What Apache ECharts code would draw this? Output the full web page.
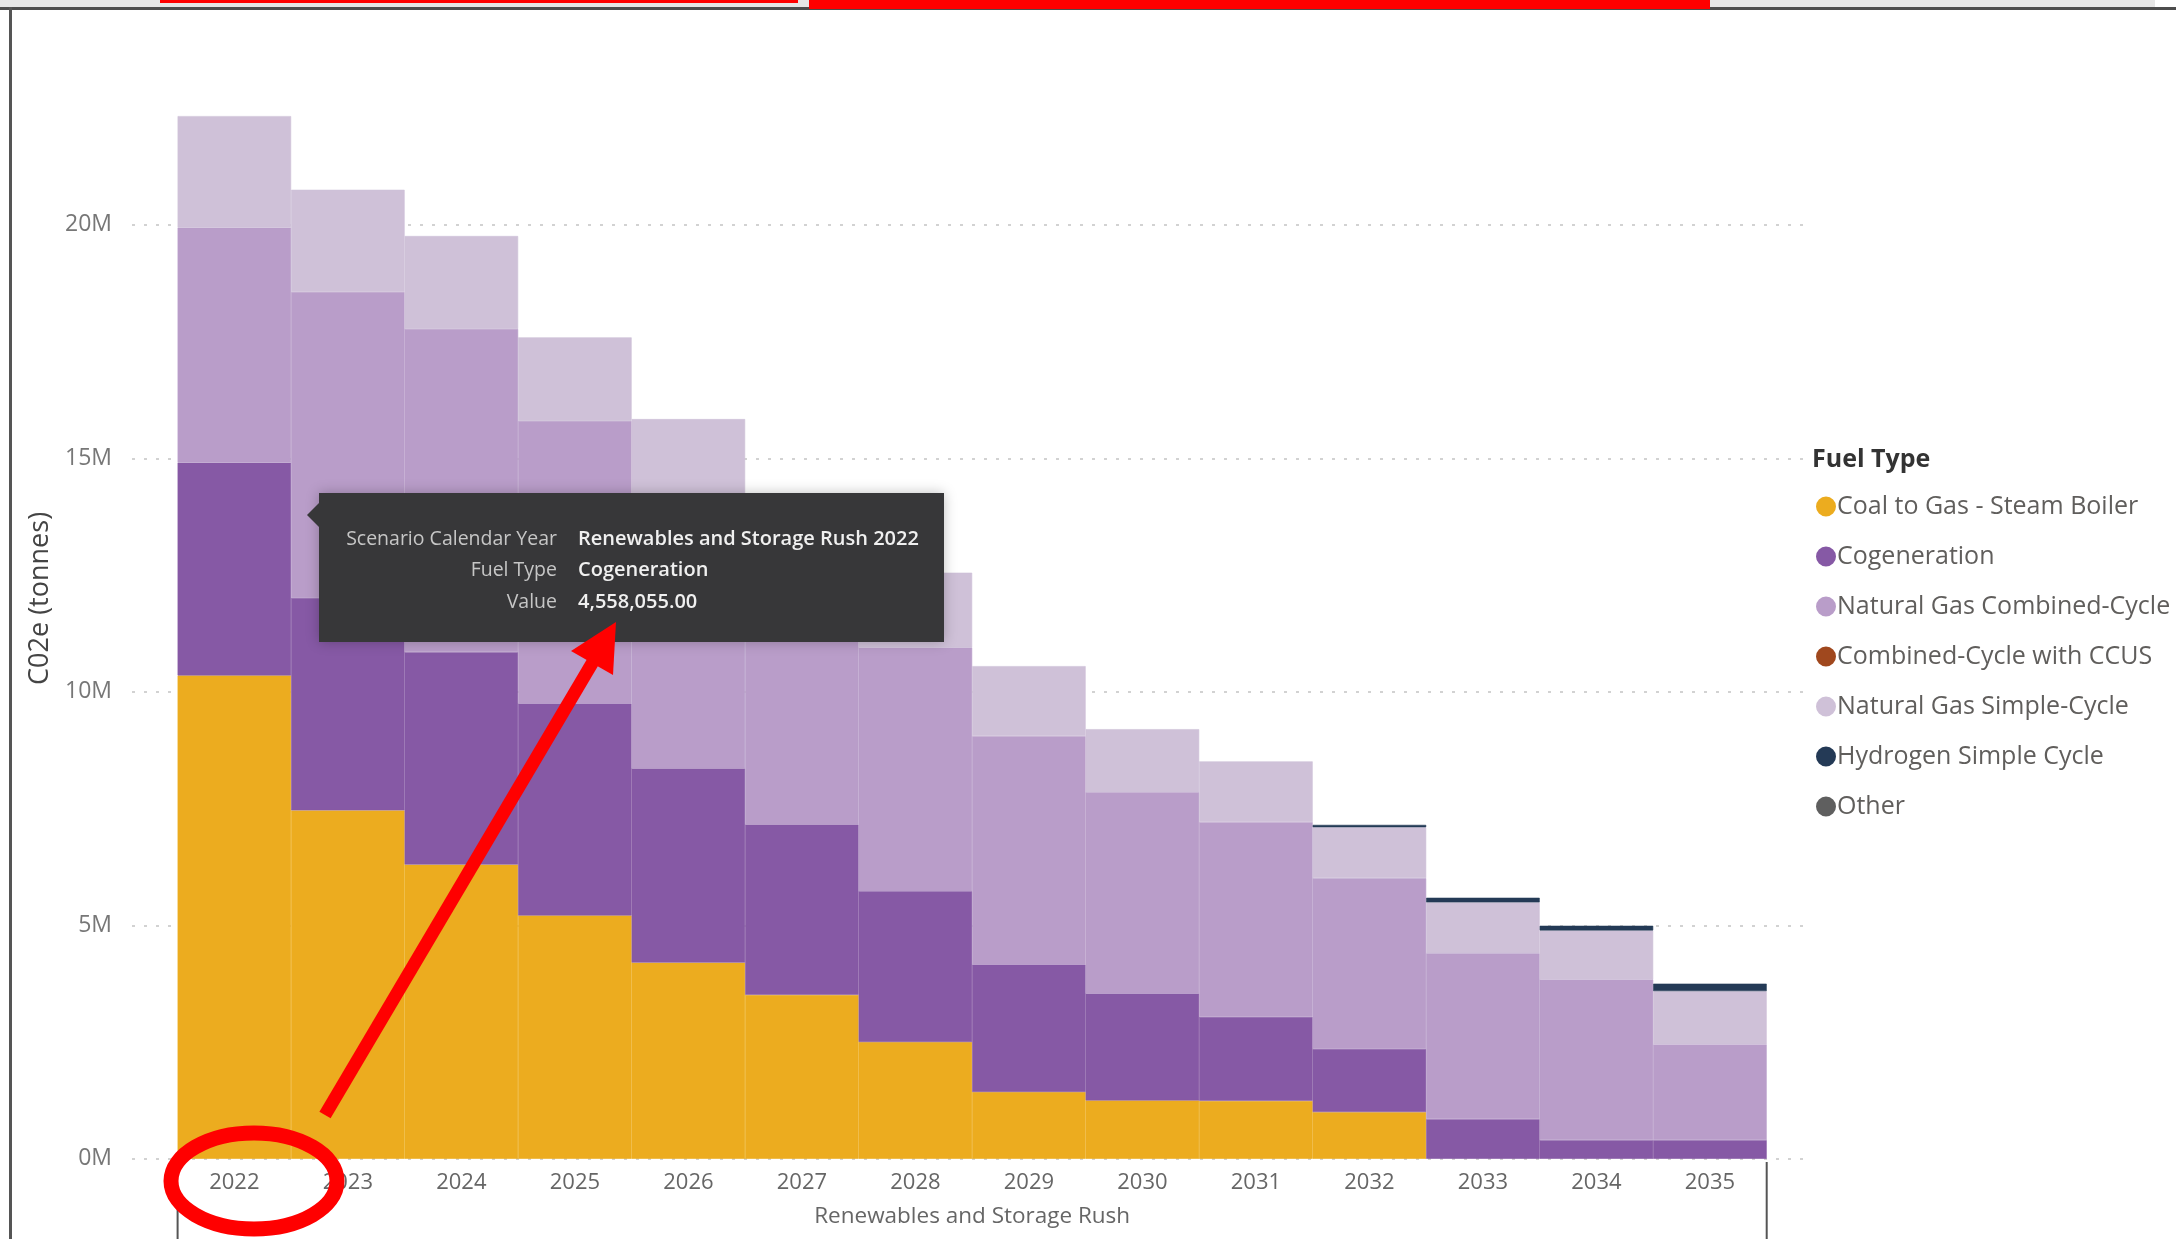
<!DOCTYPE html>
<html>
<head>
<meta charset="utf-8">
<script src="https://cdn.jsdelivr.net/npm/echarts@6/dist/echarts.min.js"></script>
<style>
  html, body { margin: 0; padding: 0; background: #fff; }
  #chart { width: 2176px; height: 1239px; }
</style>
</head>
<body>
<div id="chart"></div>
<script>
  // values in tonnes CO2e
  var years = ['2022', '2023', '2024', '2025', '2026', '2027', '2028', '2029', '2030', '2031', '2032', '2033', '2034', '2035'];
  var coalToGas = [10350000, 7460000, 6300000, 5210000, 4200000, 3510000, 2500000, 1430000, 1250000, 1240000, 1000000, 0, 0, 0];
  var cogeneration = [4558055, 4550000, 4550000, 4540000, 4160000, 3650000, 3230000, 2730000, 2290000, 1800000, 1350000, 850000, 400000, 400000];
  var ngCombined = [5030000, 6550000, 6920000, 6050000, 5760000, 5240000, 5220000, 4890000, 4310000, 4170000, 3660000, 3550000, 3440000, 2050000];
  var ccus = [0, 0, 0, 0, 0, 0, 0, 0, 0, 0, 0, 0, 0, 0];
  var ngSimple = [2390000, 2190000, 1990000, 1790000, 1720000, 1650000, 1600000, 1500000, 1350000, 1300000, 1090000, 1090000, 1050000, 1140000];
  var hydrogen = [0, 0, 0, 0, 0, 0, 0, 0, 0, 0, 50000, 100000, 100000, 160000];
  var other = [0, 0, 0, 0, 0, 0, 0, 0, 0, 0, 0, 0, 0, 0];
  var yTicks = [0, 5000000, 10000000, 15000000, 20000000];

  var fuelNames = ['Coal to Gas - Steam Boiler', 'Cogeneration', 'Natural Gas Combined-Cycle',
    'Combined-Cycle with CCUS', 'Natural Gas Simple-Cycle', 'Hydrogen Simple Cycle', 'Other'];
  var fuelData = [coalToGas, cogeneration, ngCombined, ccus, ngSimple, hydrogen, other];
  var fuelColors = ['#ECAC1F', '#8659A5', '#B99DC9', '#A0481E', '#CFC1D8', '#243A56', '#5F5F5F'];

  var font = '"Segoe UI", "Open Sans", sans-serif';
  var yMax = 24000000;

  var chart = echarts.init(document.getElementById('chart'));

  var series = fuelNames.map(function (name, i) {
    return {
      name: name,
      type: 'bar',
      stack: 'fuel',
      xAxisIndex: 0,
      yAxisIndex: 0,
      barCategoryGap: 0,
      color: fuelColors[i],
      // thin same-colour border hides the seams between neighbouring bars
      itemStyle: { color: fuelColors[i], borderColor: fuelColors[i], borderWidth: 0.6 },
      // empty segments are left out so they draw no border line
      data: fuelData[i].map(function (v) { return v === 0 ? '-' : v; }),
      z: 3
    };
  });

  var option = {
    animation: false,
    backgroundColor: '#fff',
    textStyle: { fontFamily: font },
    grid: [
      { left: 177.6, right: 409.3, top: 38, bottom: 80.2 },
      { left: 132, right: 365, top: 38, bottom: 80.2 }
    ],
    legend: {
      orient: 'vertical',
      left: 1811,
      top: 489,
      icon: 'circle',
      itemWidth: 18,
      itemHeight: 18,
      itemGap: 25,
      selectedMode: false,
      data: fuelNames,
      textStyle: { fontFamily: font, fontSize: 25, color: '#605E5C', padding: [0, 0, 0, -3] }
    },
    xAxis: [
      {
        type: 'category',
        gridIndex: 0,
        data: years,
        axisLine: { show: false },
        axisTick: { show: false },
        axisLabel: { color: '#666', fontSize: 22, margin: 13, fontFamily: font },
        name: 'Renewables and Storage Rush',
        nameLocation: 'middle',
        nameGap: 46,
        nameTextStyle: { color: '#666', fontSize: 22.5, fontFamily: font }
      },
      { type: 'value', gridIndex: 1, show: false, min: 0, max: 1 }
    ],
    yAxis: [
      { type: 'value', gridIndex: 0, min: 0, max: yMax, interval: 5000000, show: false },
      {
        type: 'value',
        gridIndex: 1,
        min: 0,
        max: yMax,
        interval: 5000000,
        axisLine: { show: false },
        axisTick: { show: false },
        axisLabel: {
          color: '#777', fontSize: 23, margin: 20, fontFamily: font, showMaxLabel: false,
          formatter: function (v) { return yTicks.indexOf(v) >= 0 ? (v / 1000000) + 'M' : ''; }
        },
        splitLine: { show: true, showMaxLine: false, lineStyle: { color: '#c4c4c4', width: 1.5, type: [3, 9] } },
        name: 'C02e (tonnes)',
        nameLocation: 'middle',
        nameRotate: 90,
        nameGap: 77,
        nameTextStyle: { color: '#444', fontSize: 27, fontFamily: font }
      }
    ],
    series: series,
    graphic: [
      // report frame at the top and left
      { type: 'rect', shape: { x: 0, y: 0, width: 2176, height: 7 }, style: { fill: '#e6e6e6' }, z: 50 },
      { type: 'rect', shape: { x: 0, y: 7, width: 2176, height: 3 }, style: { fill: '#4d4d4d' }, z: 50 },
      { type: 'rect', shape: { x: 9, y: 7, width: 3, height: 1232 }, style: { fill: '#555' }, z: 50 },
      { type: 'rect', shape: { x: 160, y: 0, width: 638, height: 3 }, style: { fill: '#ff0000' }, z: 51 },
      { type: 'rect', shape: { x: 809, y: 0, width: 901, height: 9 }, style: { fill: '#ff0000' }, z: 51 },
      { type: 'rect', shape: { x: 2155, y: 0, width: 21, height: 7 }, style: { fill: '#fff' }, z: 51 },
      // hierarchy separators under the x axis
      { type: 'line', shape: { x1: 177.6, y1: 1208, x2: 177.6, y2: 1239 }, style: { stroke: '#555', lineWidth: 2 }, z: 50 },
      { type: 'line', shape: { x1: 1766.7, y1: 1162, x2: 1766.7, y2: 1239 }, style: { stroke: '#555', lineWidth: 2 }, z: 50 },
      // legend title
      {
        type: 'text', left: 1812, top: 447, z: 50,
        style: { text: 'Fuel Type', fill: '#333', font: 'bold 25px ' + font }
      },
      // hover tooltip
      {
        type: 'group', z: 60,
        children: [
          {
            type: 'rect', z: 60, shape: { x: 319, y: 493, width: 625, height: 149 },
            style: { fill: '#373739', shadowBlur: 12, shadowColor: 'rgba(0,0,0,0.25)' }
          },
          { type: 'polygon', z: 60, shape: { points: [[307, 515], [320, 502], [320, 528]] }, style: { fill: '#373739' } },
          { type: 'text', z: 61, x: 557, y: 539, style: { text: 'Scenario Calendar Year', fill: '#c6c6c6', font: '19.5px ' + font, align: 'right', verticalAlign: 'middle' } },
          { type: 'text', z: 61, x: 557, y: 570, style: { text: 'Fuel Type', fill: '#c6c6c6', font: '19.5px ' + font, align: 'right', verticalAlign: 'middle' } },
          { type: 'text', z: 61, x: 557, y: 602, style: { text: 'Value', fill: '#c6c6c6', font: '19.5px ' + font, align: 'right', verticalAlign: 'middle' } },
          { type: 'text', z: 61, x: 578, y: 539, style: { text: 'Renewables and Storage Rush ' + years[0], fill: '#f0f0f0', font: '600 20px ' + font, verticalAlign: 'middle' } },
          { type: 'text', z: 61, x: 578, y: 570, style: { text: fuelNames[1], fill: '#f0f0f0', font: '600 20px ' + font, verticalAlign: 'middle' } },
          {
            type: 'text', z: 61, x: 578, y: 602,
            style: {
              text: cogeneration[0].toLocaleString('en-US', { minimumFractionDigits: 2, maximumFractionDigits: 2 }),
              fill: '#f0f0f0', font: '600 20px ' + font, verticalAlign: 'middle'
            }
          }
        ]
      },
      // red annotation: circle around 2022 and arrow to the tooltip value
      {
        type: 'ellipse', z: 70, shape: { cx: 254, cy: 1181, rx: 83, ry: 48 },
        style: { fill: 'none', stroke: '#ff0000', lineWidth: 15 }
      },
      {
        type: 'line', z: 70, shape: { x1: 325, y1: 1115, x2: 594, y2: 660 },
        style: { stroke: '#ff0000', lineWidth: 13 }
      },
      {
        type: 'polygon', z: 70, shape: { points: [[616, 622], [571, 651], [613, 675]] },
        style: { fill: '#ff0000' }
      }
    ]
  };

  chart.setOption(option);
</script>
</body>
</html>
